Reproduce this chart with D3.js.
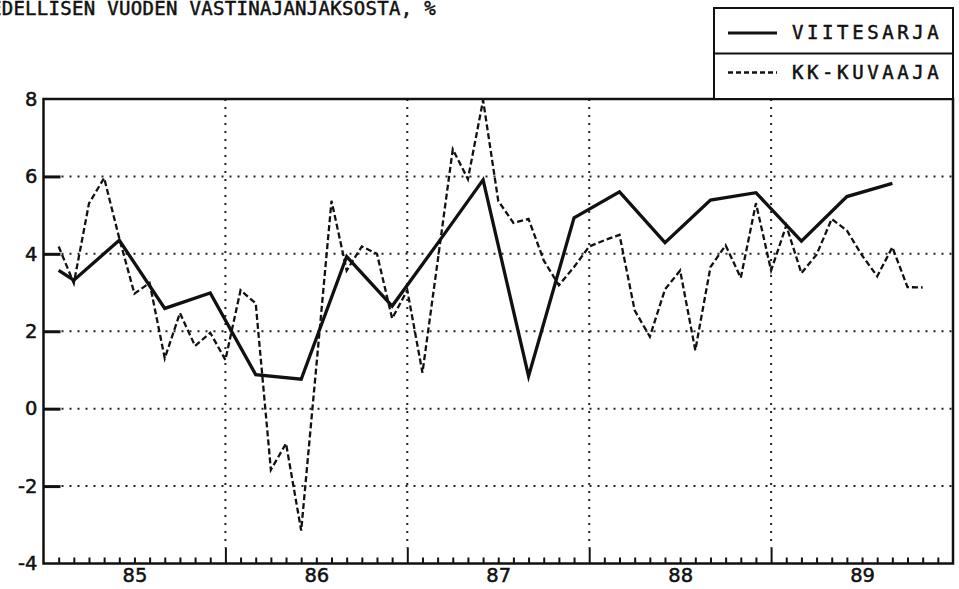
<!DOCTYPE html>
<html>
<head>
<meta charset="utf-8">
<script src="https://cdn.jsdelivr.net/npm/d3@7"></script>
<style>
  body { margin: 0; background: #fff; }
  svg { display: block; }
  .plot-text { font-family: "DejaVu Sans Mono", monospace; fill: #111; stroke: #111; stroke-width: 0.5px; }
</style>
</head>
<body>
<svg width="959" height="589"></svg>
<script>
"use strict";

const titleText = 'MUUTOS EDELLISEN VUODEN VASTINAJANJAKSOSTA, %';
const yearLabels = ['85', '86', '87', '88', '89'];
const yTicks = [8, 6, 4, 2, 0, -2, -4];

// VIITESARJA, quarterly (month index from Jan 1985)
const refMonths = [1, 2, 5, 8, 11, 14, 17, 20, 23, 26, 29, 32, 35, 38, 41, 44, 47, 50, 53, 56];
const refValues = [3.57, 3.32, 4.35, 2.59, 2.99, 0.88, 0.76, 3.93, 2.65, 4.27,
    5.91, 0.84, 4.93, 5.6, 4.29, 5.39, 5.58, 4.33, 5.48, 5.82];

// KK-KUVAAJA, monthly
const kkMonths = d3.range(1, 59);
const kkValues = [4.19, 3.24, 5.3, 5.96, 4.4, 2.97, 3.25, 1.3, 2.47, 1.62,
    1.96, 1.26, 3.06, 2.72, -1.58, -0.9, -3.15, 1.1, 5.37, 3.57,
    4.19, 4.0, 2.33, 3.06, 0.93, 3.8, 6.7, 5.93, 7.97, 5.37,
    4.8, 4.9, 3.83, 3.19, 3.66, 4.19, 4.35, 4.49, 2.54, 1.86,
    3.08, 3.57, 1.51, 3.66, 4.22, 3.38, 5.31, 3.57, 4.73, 3.5,
    3.98, 4.9, 4.6, 3.96, 3.42, 4.17, 3.14, 3.13];

const legendItems = [
    {name: 'VIITESARJA', dash: null, width: 3},
    {name: 'KK-KUVAAJA', dash: '5,3', width: 2.3}
];

const svg = d3.select('svg');
const pLeft = 43.5, pRight = 953, pTop = 99, pBottom = 563.5;

const x = d3.scaleLinear().domain([0, 60]).range([pLeft, pRight]);
const y = d3.scaleLinear().domain([-4, 8]).range([pBottom, pTop]);

// title (runs off the left edge like the original)
svg.append('text')
    .attr('class', 'plot-text')
    .attr('x', 436)
    .attr('y', 15)
    .attr('text-anchor', 'end')
    .attr('font-size', '19px')
    .attr('letter-spacing', '0.3px')
    .text(titleText);

// grid
const grid = svg.append('g')
    .attr('stroke', '#222')
    .attr('stroke-width', 2)
    .attr('stroke-dasharray', '2,6')
    .attr('fill', 'none');

grid.selectAll('.hgrid')
    .data(yTicks.filter(d => d > -4 && d < 8))
    .enter().append('line')
    .attr('x1', pLeft + 18).attr('x2', pRight)
    .attr('y1', d => y(d)).attr('y2', d => y(d));

grid.selectAll('.vgrid')
    .data([12, 24, 36, 48])
    .enter().append('line')
    .attr('x1', d => x(d)).attr('x2', d => x(d))
    .attr('y1', pTop).attr('y2', pBottom - 16);

function styleLabels(g) {
    g.attr('font-size', null).attr('font-family', null);
    g.selectAll('text')
        .style('font-family', '"DejaVu Sans", sans-serif')
        .style('font-size', '19.5px')
        .attr('fill', '#111')
        .attr('stroke', '#111')
        .attr('stroke-width', 0.5);
}

// y axis: inward ticks + labels
svg.append('g')
    .attr('transform', `translate(${pLeft},0)`)
    .call(d3.axisRight(y).tickValues(yTicks.filter(d => d > -4 && d < 8)).tickSize(17).tickFormat(''))
    .call(g => g.select('.domain').remove())
    .call(g => g.selectAll('line').attr('stroke', '#111').attr('stroke-width', 3));

svg.append('g')
    .attr('transform', `translate(${pLeft},0)`)
    .call(d3.axisLeft(y).tickValues(yTicks).tickSize(0).tickPadding(6).tickFormat(d => d < 0 ? '-' + Math.abs(d) : d))
    .call(g => g.select('.domain').remove())
    .call(styleLabels);

// x axis: monthly ticks pointing up, longer at year boundaries
svg.append('g')
    .attr('transform', `translate(0,${pBottom})`)
    .call(d3.axisTop(x).tickValues(d3.range(1, 60).filter(m => m % 12 !== 0)).tickSize(6).tickFormat(''))
    .call(g => g.select('.domain').remove())
    .call(g => g.selectAll('line').attr('stroke', '#111').attr('stroke-width', 2));

svg.append('g')
    .attr('transform', `translate(0,${pBottom})`)
    .call(d3.axisTop(x).tickValues([12, 24, 36, 48]).tickSize(16).tickFormat(''))
    .call(g => g.select('.domain').remove())
    .call(g => g.selectAll('line').attr('stroke', '#111').attr('stroke-width', 2));

svg.append('g')
    .attr('transform', `translate(0,${pBottom})`)
    .call(d3.axisBottom(x).tickValues([6, 18, 30, 42, 54]).tickSize(0).tickPadding(5)
        .tickFormat((d, i) => yearLabels[i]))
    .call(g => g.select('.domain').remove())
    .call(styleLabels);

// data lines
const line = d3.line().x(d => x(d[0])).y(d => y(d[1]));

svg.append('path')
    .datum(kkMonths.map((m, i) => [m, kkValues[i]]))
    .attr('fill', 'none')
    .attr('stroke', '#111')
    .attr('stroke-width', 2.3)
    .attr('stroke-dasharray', '6,3')
    .attr('d', line);

svg.append('path')
    .datum(refMonths.map((m, i) => [m, refValues[i]]))
    .attr('fill', 'none')
    .attr('stroke', '#111')
    .attr('stroke-width', 3.3)
    .attr('stroke-linejoin', 'miter')
    .attr('d', line);

// frame
svg.append('rect')
    .attr('x', pLeft).attr('y', pTop)
    .attr('width', pRight - pLeft).attr('height', pBottom - pTop)
    .attr('fill', 'none')
    .attr('stroke', '#111')
    .attr('stroke-width', 2.5);

// legend box
const lx = 714, ly = 8, rowH = 45.5;
const legend = svg.append('g');
legend.append('rect')
    .attr('x', lx).attr('y', ly)
    .attr('width', pRight - lx).attr('height', pTop - ly)
    .attr('fill', '#fff')
    .attr('stroke', '#111')
    .attr('stroke-width', 2);
legend.append('line')
    .attr('x1', lx).attr('x2', pRight)
    .attr('y1', ly + rowH).attr('y2', ly + rowH)
    .attr('stroke', '#111')
    .attr('stroke-width', 2);

const rows = legend.selectAll('.row')
    .data(legendItems)
    .enter().append('g')
    .attr('transform', (d, i) => `translate(0,${ly + i * rowH})`);

rows.append('line')
    .attr('x1', 728).attr('x2', 777)
    .attr('y1', (d, i) => i === 0 ? 25 : 19)
    .attr('y2', (d, i) => i === 0 ? 25 : 19)
    .attr('stroke', '#111')
    .attr('stroke-width', d => d.width)
    .attr('stroke-dasharray', d => d.dash);

rows.append('text')
    .attr('class', 'plot-text')
    .attr('x', 792)
    .attr('y', (d, i) => i === 0 ? 31 : 25)
    .attr('font-size', '19px')
    .attr('letter-spacing', '3.6px')
    .text(d => d.name);
</script>
</body>
</html>
